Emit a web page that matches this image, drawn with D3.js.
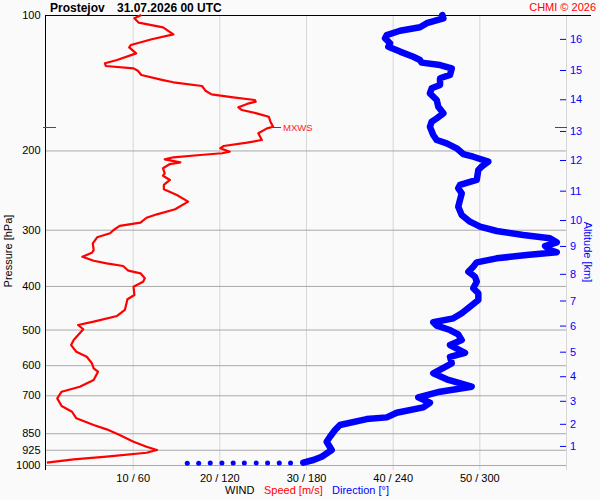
<!DOCTYPE html>
<html>
<head>
<meta charset="utf-8">
<script src="https://cdn.jsdelivr.net/npm/d3@7"></script>
<style>
    body { margin: 0; background: #fafafa; }
    svg { font-family: "Liberation Sans", Arial, sans-serif; }
</style>
</head>
<body>
<div id="sounding"></div>
<script>
// wind speed profile [m/s] by pressure [hPa]
var speedP = [100,101.7,104,106.5,110.4,113.2,116.6,118,121.7,125.9,128,129.8,131.4,133,135.9,139.5,141.1,143.8,147.3,150.1,
    152.4,154.5,155.8,157.6,160.4,162.6,165.4,168.3,172.6,177.1,178.6,183.2,189.6,192.2,195.5,197.8,201.3,202.9,204.7,207.1,
    209.3,212.5,214.4,219.1,224.8,227.6,232.6,238.6,244,251.2,259.9,270.2,277.3,282.2,289.4,294.3,300.4,305.5,311.9,321.6,
    332.9,337.5,344.5,351.6,356.3,361.2,370,375,384.7,391.4,401.5,419,428.3,452.4,466.5,480.3,488.5,499.3,527.7,541.4,
    560.3,574.8,594.3,609.6,620.4,647.3,669.9,687.3,711,739.6,761.5,787.6,815.1,833.2,857.7,887.7,910.8,926.4,939.3,958.5,
    971.2,988.3];
var speedV = [11.0,10.2,10.7,13.5,14.7,12.2,9.8,9.6,10.4,8.2,6.8,6.9,10.1,10.6,11.0,13.5,14.7,18.0,18.4,19.1,
    21.6,24.1,24.2,23.2,22.2,22.6,24.3,25.7,25.9,26.2,25.5,24.5,24.9,23.2,20.5,20.1,21.2,20.3,17.8,14.7,
    13.7,15.5,14.3,13.5,13.7,13.5,14.3,13.6,13.6,15.1,16.4,14.9,12.8,11.6,10.9,8.5,7.8,7.4,5.9,5.4,
    5.5,5.3,4.2,5.5,7.0,8.9,9.5,10.9,11.4,11.2,10.1,10.2,9.4,9.1,8.2,5.5,3.7,4.3,3.2,2.9,
    3.5,4.7,5.3,5.5,6.0,5.5,3.9,1.8,1.3,1.8,3.0,3.5,5.5,7.0,8.5,10.1,11.6,12.8,11.6,7.0,
    3.2,0.1];

// wind direction profile [deg] by pressure [hPa]
var dirP = [100,101.7,104.3,106.5,108.4,110.8,112.6,115.6,117.6,120.6,123.8,125.9,127.6,129.2,131.4,135.9,138.2,143.1,145.5,149.3,
    154.5,159.9,165.4,169.7,172.6,177.1,184.8,189.6,192.8,197.8,203.7,206.5,211.8,217.3,221,232.6,238.6,242.7,249.1,257.7,
    266.7,278.3,287.9,295.4,302,308.2,313.5,320,326.2,332.9,336.8,341.5,347.3,354.5,362.5,371.9,381.6,391.4,404.8,415.4,
    429.9,444.9,460.2,472.1,481.8,490.3,501.2,512.4,527.7,541.4,563.2,574.8,594.3,625.5,645.1,669.9,687.3,707.4,727.2,744.5,
    765.4,783.7,790.5,815.1,836,865.4,887.7,926.4,958.5,974.7,988.3];
var dirV = [274.4,275.1,263.6,258.9,245.1,235.9,234.7,238.2,237,245.1,254.3,258.9,260.1,272.8,280.9,279.7,272.8,272.8,267,265.8,
    270.5,271.6,275.1,270.5,267,265.8,268.1,270.5,277.4,284.3,288.9,295.8,306.2,301.6,299.3,298.2,286.6,285.4,287.8,286.6,
    285.4,287.8,293.5,300.5,312,330.4,348.9,353.6,345.5,348.9,353.6,332.8,312,298.2,295.8,292.4,297,298.2,295.8,299.3,
    299.3,293.5,287.8,282,268.1,270.5,279.7,285.4,287.8,279.7,290.1,279.7,280.9,268.1,277.4,294.7,272.8,257.7,265.8,261.2,
    242.8,235.9,222,203.5,200.1,196.6,194.3,197.8,190.9,185.1,178.1];

// separate direction samples near the ground
var sfcDirP = [990,990,990,990,990,990,990,990,991,991];
var sfcDirV = [169.3,161.5,153.4,145.5,137.3,129.6,121.8,113.7,105.7,97.8];

// axis ticks
var pressureTicks = [100,200,300,400,500,600,700,850,925,1000];
var speedTicks = [10,20,30,40,50,60];
var dirTicks = [60,120,180,240,300,360];
var altKm = [1,2,3,4,5,6,7,8,9,10,11,12,13,14,15,16];
var altP = [907,810,720,635,560,490,431,376,326,285.5,245.7,210,181,153.9,132.5,113];

class SoundingChart {

    constructor() {
        this.width = 600;
        this.height = 500;
        this.left = 45.5;
        this.right = 566;
        this.top = 15;
        this.bottom = 465;

        this.svg = d3.select('#sounding')
            .append('svg')
            .attr('width', this.width)
            .attr('height', this.height);

        this.y = d3.scaleLog().domain([100, 1000]).range([this.top, this.bottom]);
        this.xSpeed = d3.scaleLinear().domain([0, 60]).range([this.left + 0.5, this.right]);
        this.xDir = d3.scaleLinear().domain([0, 360]).range([this.left + 0.5, this.right]);
    }

    drawAxes() {
        var svg = this.svg, y = this.y;
        var plotW = this.right - this.left;

        // vertical grid + bottom labels
        var gx = svg.append('g')
            .attr('transform', 'translate(0,470)')
            .call(d3.axisBottom(this.xSpeed)
                .tickValues(speedTicks)
                .tickSize(-455)
                .tickPadding(4)
                .tickFormat(function(d, i) {
                    return d < 60 ? d + ' / ' + dirTicks[i] : '';
                }));
        gx.select('.domain').remove();
        gx.selectAll('line').attr('stroke', '#d6d6d6');
        gx.selectAll('text').attr('font-size', 11).attr('fill', '#000');

        // horizontal grid
        var gy = svg.append('g')
            .attr('transform', 'translate(' + this.right + ',0)')
            .call(d3.axisLeft(y)
                .tickValues(pressureTicks.slice(1))
                .tickSize(plotW)
                .tickFormat(''));
        gy.select('.domain').remove();
        gy.selectAll('line').attr('stroke', '#a9a9a9');

        // pressure labels
        var gp = svg.append('g')
            .attr('transform', 'translate(' + this.left + ',0)')
            .call(d3.axisLeft(y)
                .tickValues(pressureTicks)
                .tickSize(0)
                .tickPadding(5)
                .tickFormat(d3.format('d')));
        gp.select('.domain').remove();
        gp.selectAll('text').attr('font-size', 11).attr('fill', '#000');

        svg.append('line')
            .attr('x1', this.left).attr('x2', this.left)
            .attr('y1', this.top).attr('y2', 470)
            .attr('stroke', '#000');
        svg.append('line')
            .attr('x1', this.left).attr('x2', 591)
            .attr('y1', this.top + 0.5).attr('y2', this.top + 0.5)
            .attr('stroke', '#000');

        // altitude axis
        var ga = svg.append('g')
            .attr('transform', 'translate(' + this.right + ',0)')
            .call(d3.axisRight(y)
                .tickValues(altP)
                .tickSize(0)
                .tickPadding(4)
                .tickFormat(function(d, i) { return altKm[i]; }));
        ga.select('.domain').remove();
        ga.selectAll('text').attr('font-size', 11).attr('fill', '#0000ff');
        ga.selectAll('.tick').append('line')
            .attr('x1', -6).attr('x2', 0)
            .attr('stroke', '#0000ff');

        svg.append('text')
            .attr('transform', 'translate(12,251) rotate(-90)')
            .attr('text-anchor', 'middle')
            .attr('font-size', 11)
            .text('Pressure [hPa]');
        svg.append('text')
            .attr('transform', 'translate(584,252) rotate(90)')
            .attr('text-anchor', 'middle')
            .attr('font-size', 11)
            .attr('fill', '#0000ff')
            .text('Altitude [km]');
    }

    drawTitles() {
        var svg = this.svg;
        svg.append('text').attr('x', 50).attr('y', 11.5)
            .attr('font-size', 12).attr('font-weight', 'bold')
            .text('Prostejov');
        svg.append('text').attr('x', 117).attr('y', 11.5)
            .attr('font-size', 12).attr('font-weight', 'bold')
            .text('31.07.2026 00 UTC');
        svg.append('text').attr('x', 596).attr('y', 10.5)
            .attr('text-anchor', 'end')
            .attr('font-size', 11).attr('fill', '#ff0000')
            .text('CHMI \u00a9 2026');

        var leg = svg.append('text').attr('y', 494).attr('font-size', 11);
        leg.append('tspan').attr('x', 225).attr('fill', '#000').text('WIND');
        leg.append('tspan').attr('x', 264).attr('fill', '#ff0000').text('Speed [m/s]');
        leg.append('tspan').attr('x', 332).attr('fill', '#0000ff').text('Direction [\u00b0]');
    }

    drawProfiles() {
        var svg = this.svg, y = this.y, xs = this.xSpeed, xd = this.xDir;

        var dir = d3.zip(dirP, dirV);
        svg.append('path')
            .datum(dir)
            .attr('fill', 'none')
            .attr('stroke', '#0000ff')
            .attr('stroke-width', 6.5)
            .attr('stroke-linejoin', 'round')
            .attr('stroke-linecap', 'round')
            .attr('d', d3.line()
                .x(function(d) { return xd(d[1]); })
                .y(function(d) { return y(d[0]); }));

        svg.selectAll('circle.sfc')
            .data(d3.zip(sfcDirP, sfcDirV))
            .enter().append('circle')
            .attr('class', 'sfc')
            .attr('cx', function(d) { return xd(d[1]); })
            .attr('cy', function(d) { return y(d[0]); })
            .attr('r', 2.5)
            .attr('fill', '#0000ff');

        var spd = d3.zip(speedP, speedV);
        svg.append('path')
            .datum(spd)
            .attr('fill', 'none')
            .attr('stroke', '#ff0000')
            .attr('stroke-width', 2.2)
            .attr('stroke-linejoin', 'round')
            .attr('d', d3.line()
                .x(function(d) { return xs(d[1]); })
                .y(function(d) { return y(d[0]); }));

        // max wind marker
        var iMax = d3.maxIndex(speedV);
        var mx = xs(speedV[iMax]), my = Math.round(y(speedP[iMax])) + 0.5;
        svg.append('line')
            .attr('x1', mx).attr('x2', mx + 8)
            .attr('y1', my).attr('y2', my)
            .attr('stroke', '#ff0000');
        svg.append('text')
            .attr('x', mx + 10).attr('y', my + 3.5)
            .attr('font-size', 9.5).attr('fill', '#ff2020')
            .text('MXWS');
        svg.append('line')
            .attr('x1', 43).attr('x2', 56)
            .attr('y1', my).attr('y2', my)
            .attr('stroke', '#ff0000');
        svg.append('line')
            .attr('x1', 555).attr('x2', 567)
            .attr('y1', my).attr('y2', my)
            .attr('stroke', '#ff0000');
    }
}

var chart = new SoundingChart();
chart.drawAxes();
chart.drawTitles();
chart.drawProfiles();
</script>
</body>
</html>
